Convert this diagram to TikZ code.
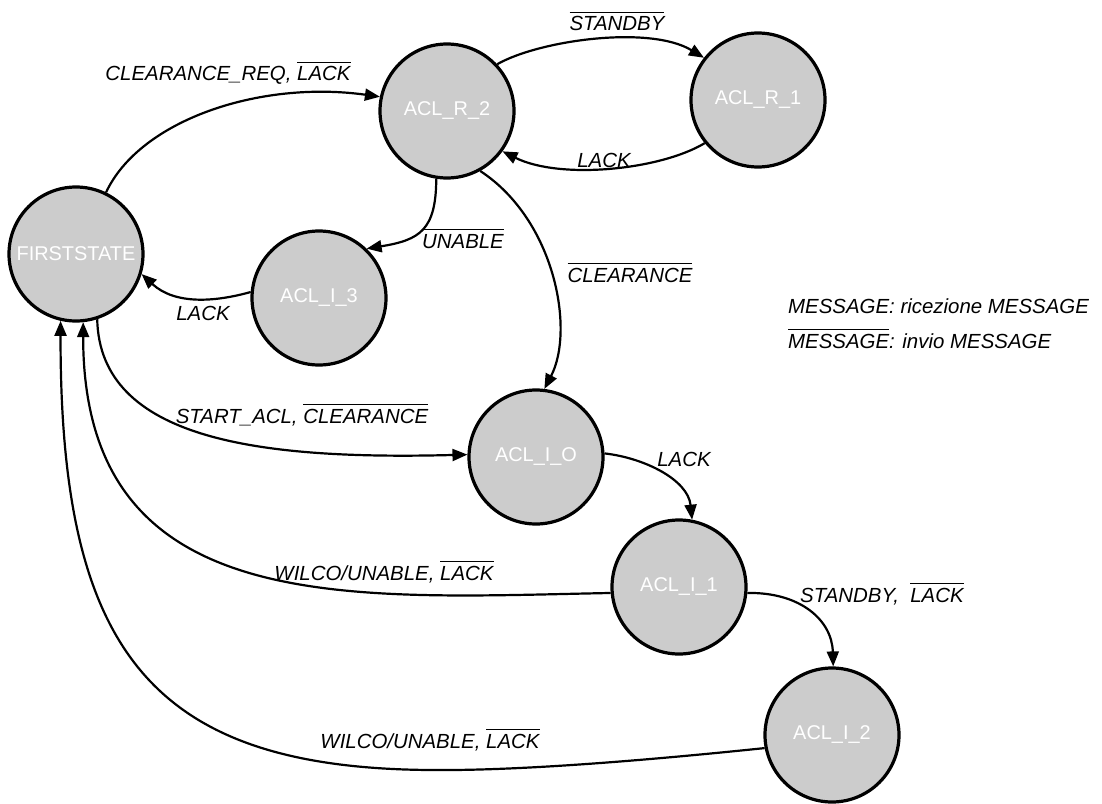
\documentclass[tikz,border=0pt]{standalone}
\usepackage{fontspec}
\setmainfont{Liberation Sans}
\usetikzlibrary{arrows.meta}
\definecolor{stategray}{HTML}{CCCCCC}
% a message that is sent: the name with a bar over it
\newcommand\outmsg[1]{\leavevmode\vbox{\hrule height 1.3bp\kern 3.5bp\hbox{#1}}}
\begin{document}
\begin{tikzpicture}[x=1bp,y=-1bp,
  state/.style={circle, draw=black, line width=3.2bp, fill=stategray,
    minimum size=134bp, inner sep=0pt, text=white,
    font=\fontsize{20}{24}\selectfont},
  trans/.style={line width=2.2bp, -{Triangle[length=15bp,width=12bp]}},
  lbl/.style={font=\fontsize{20.5}{24}\selectfont\itshape, inner sep=0pt, anchor=base}]
\useasboundingbox[fill=white] (0,0) rectangle (1102,804);

% states
\node[state] (F)  at (76,254)  {FIRSTSTATE};
\node[state] (R2) at (447,111) {ACL\_R\_2};
\node[state] (R1) at (758,100) {ACL\_R\_1};
\node[state] (I3) at (319,298) {ACL\_I\_3};
\node[state] (I0) at (536,457) {ACL\_I\_O};
\node[state] (I1) at (679,587) {ACL\_I\_1};
\node[state] (I2) at (832,735) {ACL\_I\_2};
\coordinate (low) at (430,770);

% transitions
\draw[trans] (F.64) .. controls (140,120) and (260,80) .. (R2.168);
\draw[trans] (R2.43) .. controls (540,40) and (650,25) .. (R1.142);
\draw[trans] (R1.219) .. controls (660,170) and (560,180) .. (R2.324);
\draw[trans] (R2.261) .. controls (436,230) and (420,240) .. (I3.46);
\draw[trans] (R2.299) .. controls (555,220) and (575,330) .. (I0.83);
\draw[trans] (I3.175) .. controls (215,302) and (175,305) .. (F.343);
\draw[trans] (F.288) .. controls (100,440) and (260,460) .. (I0.178);
\draw[trans] (I0.3) .. controls (645,458) and (688,480) .. (I1.79);
\draw[trans] (I1.185) .. controls (350,598) and (83,620) .. (F.276);
\draw[trans] (I1.355) .. controls (800,592) and (832,620) .. (I2.89);
\draw[trans] (I2.191) .. controls (650,760) and (520,771) .. (low)
  .. controls (150,768) and (60,650) .. (F.257);

% transition labels
\node[lbl] (l1)  at (228,81)  {CLEARANCE\_REQ, \outmsg{LACK}};
\node[lbl] (l2)  at (617,31)  {\outmsg{STANDBY}};
\node[lbl] (l3)  at (604,167) {LACK};
\node[lbl] (l4)  at (463,248) {\outmsg{UNABLE}};
\node[lbl] (l5)  at (630,282) {\outmsg{CLEARANCE}};
\node[lbl] (l6)  at (203,320) {LACK};
\node[lbl] (l7)  at (302,423) {START\_ACL, \outmsg{CLEARANCE}};
\node[lbl] (l8)  at (684,466) {LACK};
\node[lbl] (l9)  at (384,580) {WILCO/UNABLE, \outmsg{LACK}};
\node[lbl, anchor=base west] (l10) at (800,602) {STANDBY,\ \ \outmsg{LACK}};
\node[lbl] (l11) at (430,748) {WILCO/UNABLE, \outmsg{LACK}};

% legend
\node[lbl, anchor=base west] (k1) at (788,313) {MESSAGE: ricezione MESSAGE};
\node[lbl, anchor=base west] (k2) at (788,348) {\outmsg{MESSAGE}: invio MESSAGE};
\end{tikzpicture}
\end{document}
